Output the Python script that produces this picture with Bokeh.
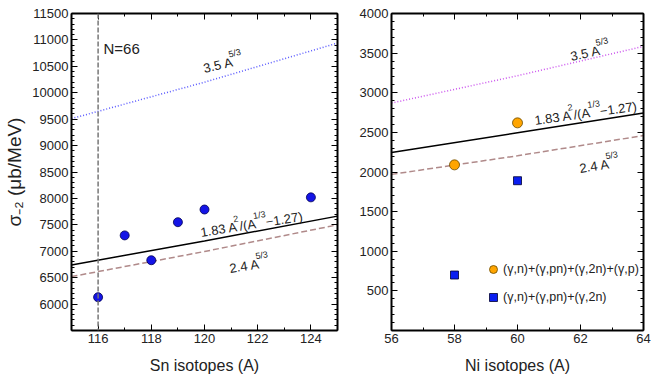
import math
from bokeh.plotting import figure
from bokeh.layouts import row
from bokeh.models import (Range1d, LinearAxis, FixedTicker, Label, Legend,
                          LegendItem, CustomJSTickFormatter, Span)
from bokeh.embed import file_html
from bokeh.resources import INLINE

FONT = "Liberation Sans"

# ---------------- data: Sn panel ----------------
sn_A = [116, 117, 118, 119, 120, 124]
sn_sigma = [6130, 7300, 6830, 7550, 7790, 8020]
sn_curve_A = [115, 120, 125]
sn_curve_35 = [9510, 10200, 10940]      # 3.5 A^5/3
sn_curve_183 = [6740, 7195, 7665]       # 1.83 A^2/(A^1/3-1.27)
sn_curve_24 = [6520, 6995, 7500]        # 2.4 A^5/3
sn_N66 = 116

# ---------------- data: Ni panel ----------------
ni_A_full = [58, 60]
ni_sigma_full = [2090, 2620]            # (g,n)+(g,pn)+(g,2n)+(g,p)
ni_A_part = [58, 60]
ni_sigma_part = [700, 1890]             # (g,n)+(g,pn)+(g,2n)
ni_curve_A = [56, 60, 64]
ni_curve_35 = [2870, 3215, 3585]
ni_curve_183 = [2245, 2495, 2745]
ni_curve_24 = [1970, 2205, 2460]

# ---------------- ticks ----------------
sn_xticks = [116, 118, 120, 122, 124]
sn_xminor = [115, 117, 119, 121, 123, 125]
sn_yticks = list(range(6000, 11501, 500))
sn_yminor = list(range(5500, 11501, 100))
ni_xticks = [56, 58, 60, 62, 64]
ni_xminor = [57, 59, 61, 63]
ni_yticks = list(range(500, 4001, 500))
ni_yminor = list(range(0, 4001, 100))

legend_full = "(\u03b3,n)+(\u03b3,pn)+(\u03b3,2n)+(\u03b3,p)"
legend_part = "(\u03b3,n)+(\u03b3,pn)+(\u03b3,2n)"

TXT = "#222222"


def cfg_axis(ax, ticks, minor, labels=True):
    ax.ticker = FixedTicker(ticks=ticks, minor_ticks=minor)
    ax.axis_line_width = 2
    ax.axis_line_color = "black"
    ax.major_tick_in = 6
    ax.major_tick_out = 0
    ax.minor_tick_in = 3
    ax.minor_tick_out = 0
    ax.major_tick_line_color = "black"
    ax.minor_tick_line_color = "black"
    ax.major_tick_line_width = 1
    ax.major_label_text_font = FONT
    ax.major_label_text_font_size = "13px"
    ax.major_label_text_color = TXT
    ax.axis_label_text_font = FONT
    ax.axis_label_text_font_size = "16px"
    ax.axis_label_text_font_style = "normal"
    ax.axis_label_text_color = TXT
    if labels:
        ax.major_label_standoff = 3
    else:
        ax.formatter = CustomJSTickFormatter(code="return ''")
        ax.major_label_standoff = 0


def make_fig(xr, yr, fw, fh, bl, br):
    p = figure(frame_width=fw, frame_height=fh, x_range=Range1d(*xr),
               y_range=Range1d(*yr), output_backend="svg",
               toolbar_location=None, min_border_left=bl,
               min_border_right=br, min_border_top=13, min_border_bottom=44)
    p.xgrid.visible = False
    p.ygrid.visible = False
    p.outline_line_color = None
    p.background_fill_color = "white"
    return p


def rot_label(p, x0, y0, deg, pieces):
    th = math.radians(deg)
    for dx, dy, txt, size in pieces:
        sx = x0 + dx * math.cos(th) - dy * math.sin(th)
        sy = y0 + dx * math.sin(th) + dy * math.cos(th)
        p.add_layout(Label(x=sx, y=sy, x_units="screen", y_units="screen",
                           text=txt, angle=th, angle_units="rad",
                           text_font=FONT, text_font_size=f"{size}px",
                           text_color=TXT, text_align="left",
                           text_baseline="alphabetic"))


def formula_183(p, x0, y0, deg):
    rot_label(p, x0, y0, deg, [(0, 0, "1.83 A", 13), (34.5, 8, "2", 9),
                               (39.5, 0, "/(A", 13), (54.5, 8, "1/3", 9),
                               (66, 0, "\u22121.27)", 13)])


def power_label(p, x0, y0, deg, base):
    rot_label(p, x0, y0, deg, [(0, 0, base, 13), (27.5, 8, "5/3", 9)])


# ================= left: Sn =================
p1 = make_fig((115, 125), (5500, 11500), 266, 317, 71, 7)
p1.add_layout(LinearAxis(), "above")
p1.add_layout(LinearAxis(), "right")
cfg_axis(p1.below[0], sn_xticks, sn_xminor)
cfg_axis(p1.above[0], sn_xticks, sn_xminor, labels=False)
cfg_axis(p1.left[0], sn_yticks, sn_yminor)
cfg_axis(p1.right[0], sn_yticks, sn_yminor, labels=False)
p1.below[0].axis_label = "Sn isotopes (A)"
p1.below[0].axis_label_standoff = 11
p1.left[0].axis_label = "\u03c3\u208b\u2082 (\u03bcb/MeV)"
p1.left[0].axis_label_text_font_size = "19px"
p1.left[0].axis_label_standoff = 4

p1.add_layout(Span(location=sn_N66, dimension="height", line_color="#777777",
                   line_dash="5 2", line_width=1.5))
p1.line(sn_curve_A, sn_curve_35, line_color="#5a5aff", line_dash="1 2",
        line_width=1.5)
p1.line(sn_curve_A, sn_curve_183, line_color="black", line_width=1.5)
p1.line(sn_curve_A, sn_curve_24, line_color="#b08a8a", line_dash="6 3",
        line_width=1.5)
p1.scatter(sn_A, sn_sigma, marker="circle", size=9, fill_color="#1414e6",
           line_color="#000050", line_width=0.8)

p1.add_layout(Label(x=32, y=282, x_units="screen", y_units="screen",
                    text="N=66", text_font=FONT, text_font_size="15px",
                    text_color=TXT, text_baseline="alphabetic"))
power_label(p1, 132, 262, 13, "3.5 A")
formula_183(p1, 129, 98, 9)
power_label(p1, 158, 62, 9, "2.4 A")

# ================= right: Ni =================
p2 = make_fig((56, 64), (0, 4000), 252, 317, 47, 15)
p2.add_layout(LinearAxis(), "above")
p2.add_layout(LinearAxis(), "right")
cfg_axis(p2.below[0], ni_xticks, ni_xminor)
cfg_axis(p2.above[0], ni_xticks, ni_xminor, labels=False)
cfg_axis(p2.left[0], ni_yticks, ni_yminor)
cfg_axis(p2.right[0], ni_yticks, ni_yminor, labels=False)
p2.below[0].axis_label = "Ni isotopes (A)"
p2.below[0].axis_label_standoff = 11

p2.line(ni_curve_A, ni_curve_35, line_color="#cc55ee", line_dash="1 2",
        line_width=1.5)
p2.line(ni_curve_A, ni_curve_183, line_color="black", line_width=1.5)
p2.line(ni_curve_A, ni_curve_24, line_color="#b08a8a", line_dash="6 3",
        line_width=1.5)
r_full = p2.scatter(ni_A_full, ni_sigma_full, marker="circle", size=10,
                    fill_color="#ffa500", line_color="#6a4a00", line_width=0.8)
r_part = p2.scatter(ni_A_part, ni_sigma_part, marker="square", size=8,
                    fill_color="#0a1ef0", line_color="#000030", line_width=0.8)

power_label(p2, 179, 274, 12, "3.5 A")
formula_183(p2, 143, 210, 8)
power_label(p2, 188, 162, 9, "2.4 A")

legend = Legend(items=[LegendItem(label=legend_full, renderers=[r_full]),
                       LegendItem(label=legend_part, renderers=[r_part])],
                location=(92, 23), glyph_width=20, glyph_height=20,
                label_height=20, label_standoff=-4, spacing=8, padding=0,
                margin=0, border_line_color=None, background_fill_alpha=0,
                label_text_font=FONT, label_text_font_size="12.5px",
                label_text_color=TXT)
p2.add_layout(legend)

layout = row(p1, p2)
open("out.html", "w").write(file_html(layout, INLINE))
